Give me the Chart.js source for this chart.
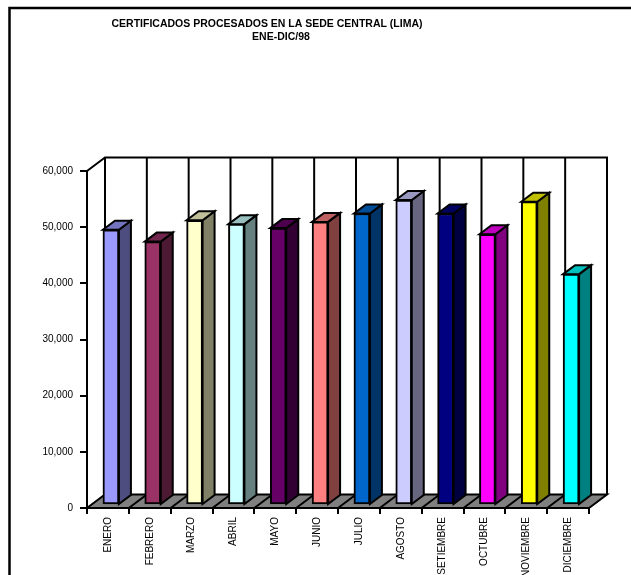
<!DOCTYPE html>
<html lang="es">
<head>
<meta charset="utf-8">
<title>Certificados procesados - Sede Central (Lima)</title>
<script src="https://cdn.jsdelivr.net/npm/chart.js@4.4.1/dist/chart.umd.min.js"></script>
<style>
  html, body { margin: 0; padding: 0; background: #fff; }
  #wrap { width: 631px; height: 575px; position: relative; }
</style>
</head>
<body>
<div id="wrap"><canvas id="grafico" width="631" height="575"></canvas></div>
<script>
// ── Datos ────────────────────────────────────────────────────────
const MESES = ["ENERO", "FEBRERO", "MARZO", "ABRIL", "MAYO", "JUNIO",
  "JULIO", "AGOSTO", "SETIEMBRE", "OCTUBRE", "NOVIEMBRE", "DICIEMBRE"];
const CERTIFICADOS = [49000, 46900, 50700, 50000, 49300, 50400,
  51900, 54300, 51900, 48200, 54000, 41100];
const TICKS_Y = [0, 10000, 20000, 30000, 40000, 50000, 60000];
const TITULO = ["CERTIFICADOS PROCESADOS EN LA SEDE CENTRAL (LIMA)", "ENE-DIC/98"];

// colores de cara frontal (paleta clásica de Excel)
const COLORES = ["#9999FF", "#993366", "#FFFFCC", "#CCFFFF", "#660066", "#FF8080",
  "#0066CC", "#CCCCFF", "#000080", "#FF00FF", "#FFFF00", "#00FFFF"];

const FUENTE = "'Liberation Sans', Arial, sans-serif";

// profundidad de las paredes y de las columnas
const PARED = { dx: 18, dy: -13.5 };
const COL = { ox: 3, oy: -3, dx: 12, dy: -9 };

function sombra(hex, f) {
  const n = parseInt(hex.slice(1), 16);
  const r = Math.round(((n >> 16) & 255) * f);
  const g = Math.round(((n >> 8) & 255) * f);
  const b = Math.round((n & 255) * f);
  return `rgb(${r},${g},${b})`;
}

function poligono(ctx, pts, fill) {
  ctx.beginPath();
  ctx.moveTo(pts[0][0], pts[0][1]);
  for (let i = 1; i < pts.length; i++) ctx.lineTo(pts[i][0], pts[i][1]);
  ctx.closePath();
  if (fill) { ctx.fillStyle = fill; ctx.fill(); }
  ctx.stroke();
}

// ── Paredes, piso y caras laterales/superiores de las columnas ──
const efecto3D = {
  id: "efecto3D",
  beforeDatasetsDraw(chart) {
    const ctx = chart.ctx;
    const xs = chart.scales.x, ys = chart.scales.y;
    const y0 = ys.getPixelForValue(0);
    const yTop = ys.getPixelForValue(TICKS_Y[TICKS_Y.length - 1]);
    const xl = xs.getPixelForValue(-0.5);
    const xr = xs.getPixelForValue(MESES.length - 0.5);

    ctx.save();
    ctx.strokeStyle = "#000";
    ctx.lineWidth = 2;
    ctx.lineJoin = "miter";

    // pared del fondo
    ctx.beginPath();
    ctx.moveTo(xl, yTop);
    ctx.lineTo(xl + PARED.dx, yTop + PARED.dy);
    ctx.lineTo(xr + PARED.dx, yTop + PARED.dy);
    ctx.lineTo(xr + PARED.dx, y0 + PARED.dy);
    ctx.stroke();
    for (let i = 0; i < MESES.length; i++) {
      const xb = xs.getPixelForValue(i - 0.5) + PARED.dx;
      ctx.beginPath();
      ctx.moveTo(xb, yTop + PARED.dy);
      ctx.lineTo(xb, y0 + PARED.dy);
      ctx.stroke();
    }

    // piso
    poligono(ctx, [[xl, y0], [xr, y0], [xr + PARED.dx, y0 + PARED.dy], [xl + PARED.dx, y0 + PARED.dy]], "#808080");
    for (let i = 1; i < MESES.length; i++) {
      const xb = xs.getPixelForValue(i - 0.5);
      ctx.beginPath();
      ctx.moveTo(xb, y0);
      ctx.lineTo(xb + PARED.dx, y0 + PARED.dy);
      ctx.stroke();
    }
    ctx.restore();

    // columnas: se desplazan hacia el fondo y se dibujan lados y tapas
    ctx.save();
    ctx.translate(COL.ox, COL.oy);
    ctx.strokeStyle = "#000";
    ctx.lineWidth = 2;
    const meta = chart.getDatasetMeta(0);
    meta.data.forEach((bar, i) => {
      const p = bar.getProps(["x", "y", "base", "width"], true);
      const l = p.x - p.width / 2, r = p.x + p.width / 2;
      poligono(ctx, [[r, p.y], [r + COL.dx, p.y + COL.dy], [r + COL.dx, p.base + COL.dy], [r, p.base]], sombra(COLORES[i], 0.5));
      poligono(ctx, [[l, p.y], [l + COL.dx, p.y + COL.dy], [r + COL.dx, p.y + COL.dy], [r, p.y]], sombra(COLORES[i], 0.75));
    });
  },
  afterDatasetsDraw(chart) {
    chart.ctx.restore();
  }
};

// ── Título y marco ───────────────────────────────────────────────
const marcoTitulo = {
  id: "marcoTitulo",
  afterDraw(chart) {
    const ctx = chart.ctx;
    ctx.save();
    ctx.strokeStyle = "#000";
    ctx.lineWidth = 2.5;
    ctx.beginPath();
    ctx.moveTo(9.5, chart.height);
    ctx.lineTo(9.5, 8);
    ctx.lineTo(chart.width, 8);
    ctx.stroke();

    ctx.fillStyle = "#000";
    ctx.font = `bold 10.5px ${FUENTE}`;
    ctx.textAlign = "center";
    ctx.textBaseline = "middle";
    ctx.fillText(TITULO[0], 267, 24.5);
    ctx.fillText(TITULO[1], 281, 37.5);
    ctx.restore();
  }
};

new Chart(document.getElementById("grafico"), {
  type: "bar",
  data: {
    labels: MESES,
    datasets: [{
      data: CERTIFICADOS,
      backgroundColor: COLORES,
      borderColor: "#000",
      borderWidth: 2,
      borderSkipped: false,
      barThickness: 16,
      clip: false
    }]
  },
  options: {
    responsive: false,
    animation: false,
    events: [],
    layout: { padding: { left: 0, right: 42, top: 171, bottom: 0 } },
    plugins: {
      legend: { display: false },
      title: { display: false },
      tooltip: { enabled: false }
    },
    scales: {
      x: {
        offset: true,
        grid: { offset: true, drawOnChartArea: false, drawTicks: true, tickLength: 6, color: "#000", lineWidth: 2 },
        border: { display: true, color: "#000", width: 2 },
        ticks: {
          autoSkip: false, minRotation: 90, maxRotation: 90, padding: 3,
          color: "#000", font: { family: FUENTE, size: 10 }
        },
        afterFit(scale) { scale.height = 67; }
      },
      y: {
        min: TICKS_Y[0],
        max: TICKS_Y[TICKS_Y.length - 1],
        afterBuildTicks(scale) { scale.ticks = TICKS_Y.map(v => ({ value: v })); },
        grid: { drawOnChartArea: false, drawTicks: true, tickLength: 7, color: "#000", lineWidth: 2 },
        border: { display: true, color: "#000", width: 2 },
        ticks: {
          padding: 7, color: "#000", font: { family: FUENTE, size: 10 },
          callback: v => v.toLocaleString("en-US")
        },
        afterFit(scale) { scale.width = 87; }
      }
    }
  },
  plugins: [efecto3D, marcoTitulo]
});
</script>
</body>
</html>
